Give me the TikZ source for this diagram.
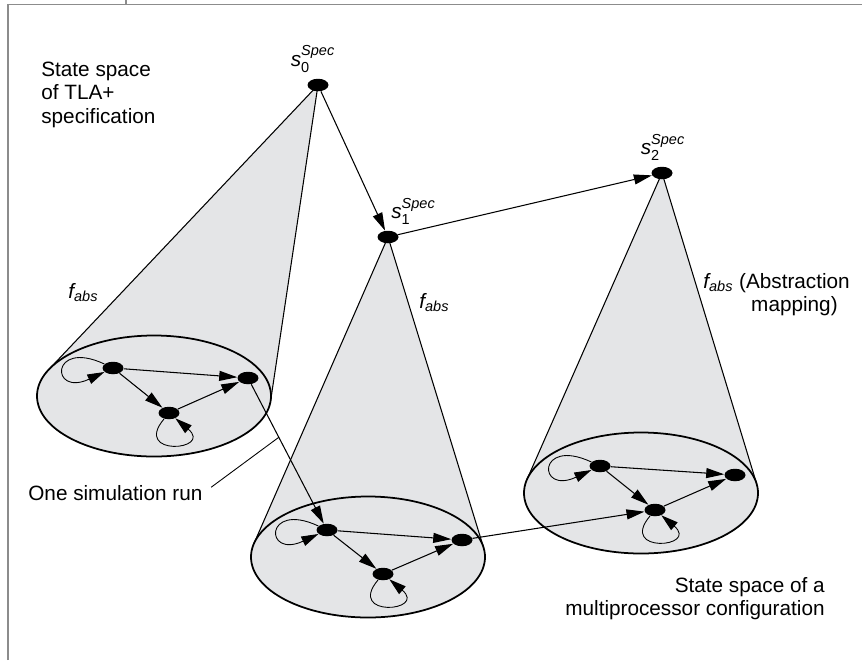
\documentclass[tikz,border=0pt]{standalone}
\usepackage{amsmath}
\usepackage{fontspec}
\setmainfont{Liberation Sans}
\usetikzlibrary{shapes.geometric,arrows.meta,calc,backgrounds}
\definecolor{spacegray}{RGB}{228,229,231}
\definecolor{framegray}{RGB}{140,140,140}
\tikzset{
  state/.style={ellipse, fill=black, minimum width=0.42cm, minimum height=0.25cm, inner sep=0pt},
  trans/.style={line width=0.6pt, -{Triangle[length=0.36cm, width=0.2cm]}},
  selfloop/.style={line width=0.5pt, -{Triangle[length=0.34cm, width=0.2cm]}},
  conearea/.style={fill=spacegray},
  coneline/.style={line width=0.6pt},
  statespace/.style={fill=spacegray, draw=black, line width=1pt},
  framerule/.style={draw=framegray, line width=0.7pt},
  lbl/.style={inner sep=0pt, font=\fontsize{11.8}{13.4}\selectfont}
}

\begin{document}
\begin{tikzpicture}[x=0.02cm, y=-0.02cm]
  \useasboundingbox (0,0) rectangle (862,660);
  \draw[framerule] (8,660) -- (8,4.5) -- (862,4.5);
  \draw[framerule] (126,0) -- (126,4.5);

  % states of the TLA+ specification
  \node[state] (s0) at (318,85) {};
  \node[state] (s1) at (388,237) {};
  \node[state] (s2) at (662,173) {};
  \coordinate (e1) at (154,396);
  \coordinate (e2) at (368,557);
  \coordinate (e3) at (641,493);

  % cones and configuration state spaces
  \begin{pgfonlayer}{background}
    \fill[conearea] (s0.center) -- ($(e1)+(4.43:117 and 60.5)$) -- ($(e1)+(-153.93:117 and 60.5)$) -- cycle;
    \draw[coneline] ($(e1)+(4.43:117 and 60.5)$) -- (s0.center) -- ($(e1)+(-153.93:117 and 60.5)$);
    \fill[conearea] (s1.center) -- ($(e2)+(-9.04:117 and 60.5)$) -- ($(e2)+(-167.26:117 and 60.5)$) -- cycle;
    \draw[coneline] ($(e2)+(-9.04:117 and 60.5)$) -- (s1.center) -- ($(e2)+(-167.26:117 and 60.5)$);
    \fill[conearea] (s2.center) -- ($(e3)+(-8.95:117 and 60.5)$) -- ($(e3)+(-167.17:117 and 60.5)$) -- cycle;
    \draw[coneline] ($(e3)+(-8.95:117 and 60.5)$) -- (s2.center) -- ($(e3)+(-167.17:117 and 60.5)$);
    \filldraw[statespace] (e1) ellipse (117 and 60.5);
    \filldraw[statespace] (e2) ellipse (117 and 60.5);
    \filldraw[statespace] (e3) ellipse (117 and 60.5);
  \end{pgfonlayer}

  \draw[trans] (s0) -- (s1);
  \draw[trans] (s1) -- (s2);

  % first configuration
  \node[state] (q1a) at (113,368) {};
  \node[state] (q1b) at (248,378) {};
  \node[state] (q1c) at (169,413) {};
  \draw[trans] (q1a) -- (q1b);
  \draw[trans] (q1a) -- (q1c);
  \draw[trans] (q1c) -- (q1b);
  \draw[selfloop] (q1a) to[out=155, in=205, min distance=1.2cm] (q1a);
  \draw[selfloop] (q1c) to[out=230, in=320, min distance=1cm] (q1c);

  % second configuration
  \node[state] (q2a) at (327,530) {};
  \node[state] (q2b) at (462,540) {};
  \node[state] (q2c) at (383,574) {};
  \draw[trans] (q2a) -- (q2b);
  \draw[trans] (q2a) -- (q2c);
  \draw[trans] (q2c) -- (q2b);
  \draw[selfloop] (q2a) to[out=155, in=205, min distance=1.2cm] (q2a);
  \draw[selfloop] (q2c) to[out=230, in=320, min distance=1cm] (q2c);

  % third configuration
  \node[state] (q3a) at (600,466) {};
  \node[state] (q3b) at (735,475) {};
  \node[state] (q3c) at (655,510) {};
  \draw[trans] (q3a) -- (q3b);
  \draw[trans] (q3a) -- (q3c);
  \draw[trans] (q3c) -- (q3b);
  \draw[selfloop] (q3a) to[out=155, in=205, min distance=1.2cm] (q3a);
  \draw[selfloop] (q3c) to[out=230, in=320, min distance=1cm] (q3c);

  % simulation run
  \draw[trans] (q1b) -- (q2a);
  \draw[trans] (q2b) -- (q3c);
  \coordinate (runpt) at ($(q1b)!0.39!(q2a)$);

  % labels
  \node[lbl, anchor=north west, align=left] (tla) at (41,61.5) {State space\\of TLA+\\specification};
  \node[lbl, anchor=south] (l0) at (313,73) {$\textit{s}_{\text{0}}^{\textit{Spec}}$};
  \node[lbl, anchor=south west] (l1) at (391,225) {$\textit{s}_{\text{1}}^{\textit{Spec}}$};
  \node[lbl, anchor=south] (l2) at (663,161) {$\textit{s}_{\text{2}}^{\textit{Spec}}$};
  \node[lbl, anchor=base west] (f1) at (68,298) {$\textit{f}_{\textit{abs}}$};
  \node[lbl, anchor=base west] (f2) at (419,308) {$\textit{f}_{\textit{abs}}$};
  \node[lbl, anchor=base west] (f3) at (703,288) {$\textit{f}_{\textit{abs}}$ \begin{tabular}[t]{@{}c@{}}(Abstraction\\mapping)\end{tabular}};
  \node[lbl, anchor=west] (run) at (28,493.5) {One simulation run};
  \draw[line width=0.5pt, shorten <=6pt] (run.east) -- (runpt);
  \node[lbl, anchor=north east, align=right] (mp) at (825,577) {State space of a\\multiprocessor configuration};
\end{tikzpicture}
\end{document}
